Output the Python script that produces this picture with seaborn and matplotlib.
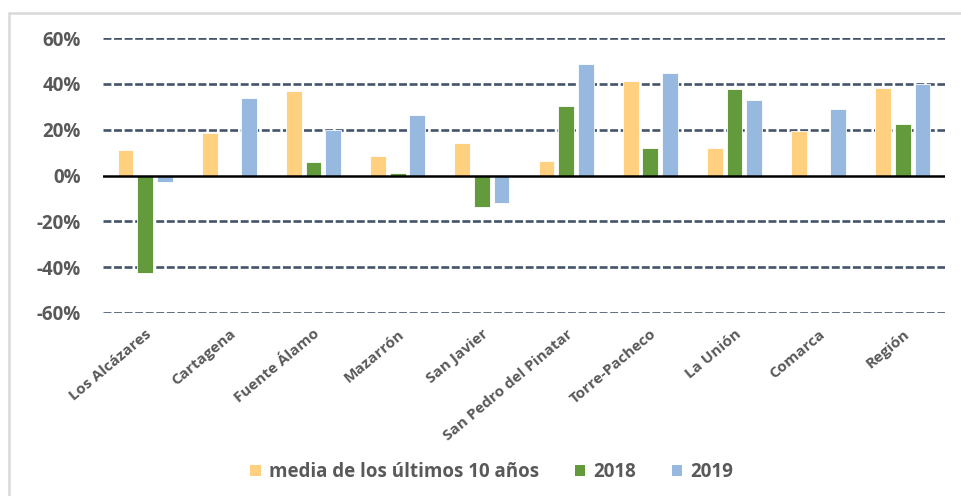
import matplotlib
matplotlib.use("Agg")
import matplotlib.pyplot as plt
from matplotlib.lines import Line2D
from matplotlib.patches import Patch
from matplotlib.ticker import FuncFormatter
import seaborn as sns
import pandas as pd

categories = ["Los Alcázares", "Cartagena", "Fuente Álamo", "Mazarrón", "San Javier",
              "San Pedro del Pinatar", "Torre-Pacheco", "La Unión", "Comarca", "Región"]
media_10 = [11.3, 18.6, 37.0, 8.7, 14.1, 6.5, 41.4, 12.2, 19.5, 38.4]
y2018 = [-42.4, 0.0, 6.0, 1.2, -13.7, 30.2, 11.9, 37.8, 0.0, 22.5]
y2019 = [-2.9, 33.9, 19.9, 26.6, -11.9, 48.7, 44.7, 33.0, 28.9, 40.1]
series = ["media de los últimos 10 años", "2018", "2019"]
colors = ["#FFD07F", "#629A3C", "#97B8DF"]
yticks = [-60, -40, -20, 0, 20, 40, 60]

df = pd.DataFrame({
    "cat": categories * 3,
    "serie": [series[0]] * 10 + [series[1]] * 10 + [series[2]] * 10,
    "val": media_10 + y2018 + y2019,
})

sns.set_theme(style="white")
plt.rcParams["font.family"] = ["Open Sans", "DejaVu Sans"]

fig = plt.figure(figsize=(9.61, 4.96), dpi=100)
ax = fig.add_axes([103 / 961, 1 - 313 / 496, (945 - 103) / 961, (313 - 38) / 496])

sns.barplot(data=df, x="cat", y="val", hue="serie", hue_order=series, order=categories,
            palette=colors, width=0.7, gap=0.2, ax=ax, legend=False,
            edgecolor="white", linewidth=0.6, saturation=1)

ax.set_ylim(-60, 60)
ax.set_xlim(-0.5, len(categories) - 0.5)
ax.set_yticks(yticks)
ax.yaxis.set_major_formatter(FuncFormatter(lambda v, p: f"{int(v)}%"))
for y in yticks:
    if y == 0:
        ax.axhline(0, color="black", lw=1.8, zorder=3)
    else:
        ax.axhline(y, color="#44546A", lw=1.9, ls=(0, (3.0, 1.0)), zorder=0)

for s in ax.spines.values():
    s.set_visible(False)
ax.set_xlabel("")
ax.set_ylabel("")
ax.tick_params(axis="both", length=0)
ax.tick_params(axis="y", pad=16)
for t in ax.get_yticklabels():
    t.set_fontsize(13.5)
    t.set_fontweight("bold")
    t.set_color("#595959")
ax.set_xticks(range(len(categories)))
ax.set_xticklabels(categories, rotation=40, ha="right", rotation_mode="anchor",
                   fontsize=11, color="#595959", fontweight="bold")
ax.tick_params(axis="x", pad=10)

handles = [Patch(facecolor=c, edgecolor="none") for c in colors]
leg = fig.legend(handles, series, loc="center", bbox_to_anchor=(492 / 961, 1 - 472 / 496), ncol=3,
                 frameon=False, handlelength=0.55, handleheight=0.55,
                 columnspacing=1.9, handletextpad=0.45,
                 prop={"family": ["Open Sans", "DejaVu Sans"], "weight": "bold", "size": 13.5})
for t in leg.get_texts():
    t.set_color("#595959")

fig.add_artist(Line2D([9 / 961, 1], [1 - 13 / 496, 1 - 13 / 496], color="#D9D9D9", lw=1.8,
                      transform=fig.transFigure))
fig.add_artist(Line2D([9 / 961, 9 / 961], [0, 1 - 13 / 496], color="#D9D9D9", lw=1.8,
                      transform=fig.transFigure))

fig.savefig("out.png", dpi=100)
